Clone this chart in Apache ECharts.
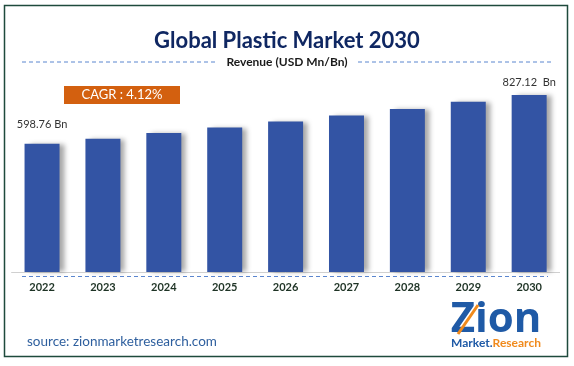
<!DOCTYPE html>
<html><head><meta charset="utf-8">
<script src="https://cdn.jsdelivr.net/npm/echarts@6/dist/echarts.min.js"></script>
<style>html,body{margin:0;padding:0;background:#fff}#c{width:574px;height:366px}</style>
</head><body><div id="c"></div>
<script>
var years = ['2022','2023','2024','2025','2026','2027','2028','2029','2030'];
var revenue = [598.76, 623, 650, 675, 703, 731, 762, 795, 827.12];
var endLabels = ['598.76 Bn', '', '', '', '', '', '', '', '827.12  Bn'];
var titleText = 'Global Plastic Market 2030';
var subtitleText = 'Revenue (USD Mn/Bn)';
var cagrText = 'CAGR : 4.12%';
var sourceText = 'source: zionmarketresearch.com';

var chart = echarts.init(document.getElementById('c'), null, {renderer:'canvas'});
var data = revenue.map(function(v,i){
  var item = {value:v};
  if (endLabels[i]) {
    item.label = {show:true, position:'top', distance: i===0 ? 14 : 7, formatter: endLabels[i]};
  }
  return item;
});
chart.setOption({
  animation:false,
  title:{text:titleText, left:'center', top:25,
    textStyle:{fontFamily:'Lato', fontWeight:'bold', fontSize:22, color:'#0f2762'}},
  grid:{left:11.6, right:14.4, top:58, bottom:94},
  xAxis:{type:'category', data:years,
    axisLine:{show:true, lineStyle:{color:'#d0d0d0', width:1}},
    axisTick:{show:false},
    axisLabel:{fontFamily:'Lato', fontWeight:'bold', fontSize:11, color:'#1e3325', margin:10}},
  yAxis:{type:'value', min:0, max:1000, show:false, splitLine:{show:false}},
  series:[{type:'bar', data:data, barWidth:35,
    itemStyle:{color:'#3354a4', shadowColor:'rgba(0,0,0,0.35)', shadowBlur:5, shadowOffsetX:5, shadowOffsetY:0},
    label:{show:false, fontFamily:'Lato', fontSize:11, color:'#333'}}],
  graphic:[
    {type:'rect', shape:{x:4.5, y:5.5, width:563, height:351}, style:{fill:null, stroke:'#1e4a3c', lineWidth:1.5}, silent:true},
    {type:'line', shape:{x1:22, y1:62, x2:215, y2:62}, style:{stroke:'#5b86cf', lineWidth:1, lineDash:[4,3]}},
    {type:'line', shape:{x1:358, y1:62, x2:553, y2:62}, style:{stroke:'#5b86cf', lineWidth:1, lineDash:[4,3]}},
    {type:'text', x:287, y:62, style:{text:subtitleText, font:'bold 12px Lato', fill:'#1a1a1a', textAlign:'center', textVerticalAlign:'middle'}},
    {type:'line', shape:{x1:22, y1:276.5, x2:548, y2:276.5}, style:{stroke:'#5b86cf', lineWidth:1, lineDash:[4,3]}},
    {type:'rect', shape:{x:64, y:86, width:116, height:18}, style:{fill:'#d3600f'}},
    {type:'text', x:122, y:95, style:{text:cagrText, font:'13px Lato', fill:'#fff', textAlign:'center', textVerticalAlign:'middle'}},
    {type:'text', x:27, y:342, style:{text:sourceText, font:'13.5px Lato', fill:'#2e5f9e', textAlign:'left', textVerticalAlign:'middle'}},
    {type:'text', x:496, y:320, style:{text:'Zion', font:'bold 42px "Open Sans"', fill:'#1f5aa6', textAlign:'center', textVerticalAlign:'middle'}},
    {type:'line', shape:{x1:458, y1:334, x2:478, y2:305}, style:{stroke:'#f08a1c', lineWidth:3}},
    {type:'text', x:496, y:343, style:{rich:{a:{font:'bold 12px Lato', fill:'#1f5aa6'}, b:{font:'bold 12px Lato', fill:'#f08a1c'}}, text:'{a|Market.}{b|Research}', textAlign:'center', textVerticalAlign:'middle'}}
  ]
});
</script></body></html>
